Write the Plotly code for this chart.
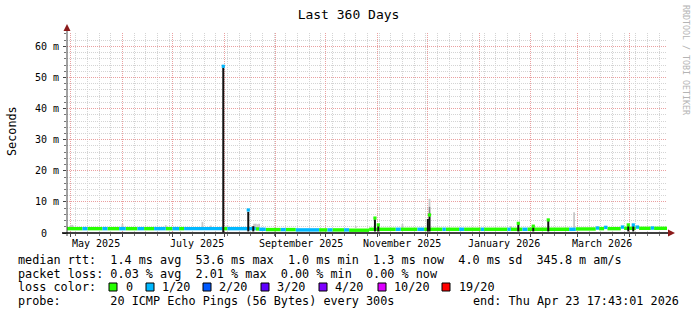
import plotly.graph_objects as go
from datetime import datetime, timedelta

# ---------------- data ----------------
END = datetime(2026, 4, 23, 17, 43, 1)
START = END - timedelta(days=360)

loss_names = ["0", "1/20", "2/20", "3/20", "4/20", "10/20", "19/20"]
loss_colors = ["#26ff00", "#00b8ff", "#0059ff", "#5e00ff", "#7e00ff", "#dd00ff", "#ff0000"]

# median rtt (ms) as steps: edges (N+1), values (N), loss class index (N)
band_edges = ["2025-04-28 17:43", "2025-05-08", "2025-05-11", "2025-05-20", "2025-05-23",
              "2025-05-30", "2025-06-03", "2025-06-10", "2025-06-14", "2025-06-20",
              "2025-06-27", "2025-07-01", "2025-07-05", "2025-07-08", "2025-07-31",
              "2025-08-03", "2025-08-20", "2025-08-22", "2025-08-26", "2025-09-04",
              "2025-09-07", "2025-09-13", "2025-09-27", "2025-10-02", "2025-10-05",
              "2025-10-12", "2025-10-15", "2025-10-27", "2025-11-12", "2025-11-15",
              "2025-11-25", "2025-11-29", "2025-12-10", "2025-12-12", "2025-12-20",
              "2025-12-23", "2026-01-02", "2026-01-04", "2026-01-18", "2026-01-20",
              "2026-01-27", "2026-01-30", "2026-02-24", "2026-02-28", "2026-03-12",
              "2026-03-14", "2026-03-17", "2026-03-19", "2026-03-27", "2026-03-29",
              "2026-04-05", "2026-04-07", "2026-04-14", "2026-04-16", "2026-04-23 17:43"]
band_median = [1.4, 1.4, 1.4, 1.4, 1.4, 1.4, 1.4, 1.4, 1.4, 1.4,
               1.4, 1.4, 1.4, 1.4, 1.4, 1.4, 1.3, 1.2, 1.1, 1.1,
               1.1, 1.0, 1.0, 1.0, 1.0, 1.0, 0.9, 1.2, 1.2, 1.2,
               1.2, 1.2, 1.2, 1.2, 1.2, 1.2, 1.2, 1.2, 1.2, 1.2,
               1.2, 1.2, 1.2, 1.3, 1.6, 1.4, 1.8, 1.4, 1.9, 1.5,
               1.9, 1.5, 1.6, 1.5]
band_loss = [0, 1, 0, 1, 0, 1, 0, 1, 0, 1,
             0, 1, 0, 1, 0, 1, 0, 1, 0, 1,
             0, 1, 0, 1, 0, 1, 0, 0, 1, 0,
             1, 0, 1, 0, 1, 0, 1, 0, 1, 0,
             1, 0, 1, 0, 1, 0, 1, 0, 1, 0,
             1, 0, 1, 0]

# isolated high medians (spikes)
spike_date = ["2025-07-31 12:00", "2025-08-15 12:00", "2025-10-30 12:00", "2025-11-01 12:00",
              "2025-12-02 06:00", "2026-01-24 12:00", "2026-02-02 12:00", "2026-02-11 12:00",
              "2026-03-31 12:00", "2026-04-03 12:00"]
spike_median = [53.6, 7.4, 4.8, 2.6, 5.8, 3.1, 2.2, 4.2, 2.6, 2.6]
spike_loss = [1, 1, 0, 0, 0, 0, 0, 0, 0, 1]

# dense smoke (dark columns)
dark_date = ["2025-07-31 12:00", "2025-08-15 12:00", "2025-08-18 12:00", "2025-10-30 12:00",
             "2025-11-01 12:00", "2025-12-01 06:00", "2025-12-02 06:00", "2026-01-24 12:00",
             "2026-02-02 12:00", "2026-02-11 12:00", "2026-03-31 12:00", "2026-04-03 12:00"]
dark_low = [0.2, 0.5, 0.5, 0.5, 0.5, 0.5, 0.5, 0.5, 0.5, 0.5, 0.5, 0.5]
dark_high = [53.2, 6.8, 2.2, 4.4, 2.3, 4.5, 5.4, 2.8, 1.9, 3.9, 2.3, 2.3]

# light smoke
smoke_date = ["2025-05-01", "2025-05-02", "2025-06-01", "2025-06-27", "2025-07-19",
              "2025-07-24", "2025-08-03", "2025-08-19", "2025-08-20", "2025-08-21",
              "2025-08-22", "2025-10-19", "2025-11-16", "2025-12-02 06:00", "2026-01-20",
              "2026-02-27"]
smoke_low = [1.6, 1.6, 1.6, 1.6, 1.6, 1.6, 1.6, 1.6, 1.6, 1.6, 1.6, 1.6, 1.6, 8.4, 1.6, 1.6]
smoke_high = [2.6, 2.6, 2.9, 2.5, 3.6, 2.4, 2.5, 3.0, 3.0, 2.8, 3.0, 2.2, 2.9, 11.0, 2.2, 6.7]
smoke_mid_date = ["2025-12-02 06:00"]
smoke_mid_low = [5.8]
smoke_mid_high = [8.4]

ytick_vals = [0, 10, 20, 30, 40, 50, 60]
ytick_text = ["0\u00a0\u00a0", "10 m", "20 m", "30 m", "40 m", "50 m", "60 m"]
month_label_dates = ["2025-05-16", "2025-07-16", "2025-09-16", "2025-11-16", "2026-01-16", "2026-03-16"]
month_labels = ["May 2025", "July 2025", "September 2025", "November 2025", "January 2026", "March 2026"]

legend_rows = [
    "median rtt:  1.4 ms avg  53.6 ms max  1.0 ms min  1.3 ms now  4.0 ms sd  345.8 m am/s",
    "packet loss: 0.03 % avg  2.01 % max  0.00 % min  0.00 % now",
    "loss color:",
    "probe:       20 ICMP Echo Pings (56 Bytes) every 300s",
]
end_text = "end: Thu Apr 23 17:43:01 2026"

# ---------------- geometry helpers (pixels) ----------------
W, H = 697, 315
L, R, T, B = 67, 30, 33, 82
PW, PH = W - L - R, H - T - B
YMAX = 64.3
FONT = "DejaVu Sans Mono"


def px(xp):
    return (xp - L) / PW


def py(yp):
    return (T + PH - yp) / PH


def nb(s):
    return s.replace(" ", "\u00a0")


fig = go.Figure()


def vcols(dates, lows, highs, color, width):
    xs, ys = [], []
    for d, lo, hi in zip(dates, lows, highs):
        xs += [d, d, None]
        ys += [lo, hi, None]
    fig.add_trace(go.Scatter(x=xs, y=ys, mode="lines", line=dict(color=color, width=width),
                             hoverinfo="skip", showlegend=False))


# light smoke
vcols(smoke_date, smoke_low, smoke_high, "#c8c8c8", 1.8)
vcols(smoke_mid_date, smoke_mid_low, smoke_mid_high, "#808080", 1.8)

# median band, coloured by loss
for li, col in enumerate(loss_colors):
    xs, ys = [], []
    for i in range(len(band_median)):
        if band_loss[i] == li:
            xs += [band_edges[i], band_edges[i + 1], None]
            ys += [band_median[i], band_median[i], None]
    if xs:
        fig.add_trace(go.Scatter(x=xs, y=ys, mode="lines", line=dict(color=col, width=3.4),
                                 hoverinfo="skip", showlegend=False))

# dark smoke columns
vcols(dark_date, dark_low, dark_high, "#111111", 2.0)

# spike medians
fig.add_trace(go.Scatter(x=spike_date, y=spike_median, mode="markers",
                         marker=dict(symbol="square", size=3.2,
                                     color=[loss_colors[k] for k in spike_loss], line=dict(width=0)),
                         hoverinfo="skip", showlegend=False))

grid_minor = "#d4d4d4"
grid_major = "#eaa0a0"

fig.update_xaxes(
    type="date", range=[START, END], showgrid=True, gridcolor=grid_major, griddash="1px,1px",
    gridwidth=1, dtick="M1", tick0="2025-05-01", ticks="outside", ticklen=3, tickcolor="#444",
    showticklabels=False, zeroline=False, showline=False,
    minor=dict(dtick=7 * 86400000, tick0="2025-05-04", showgrid=True, gridcolor=grid_minor,
               griddash="1px,1px", ticks="outside", ticklen=2, tickcolor="#777"),
)
fig.update_yaxes(
    range=[0, YMAX], tickvals=ytick_vals, ticktext=ytick_text, showgrid=True, gridcolor=grid_major,
    griddash="1px,1px", ticks="outside", ticklen=3, tickcolor="#444", zeroline=False, showline=False,
    tickfont=dict(family=FONT, size=10, color="#000"), ticklabelstandoff=2,
    minor=dict(dtick=2, showgrid=True, gridcolor=grid_minor, griddash="1px,1px", ticks="outside",
               ticklen=2, tickcolor="#777"),
)

ann = []
for d, t in zip(month_label_dates, month_labels):
    ann.append(dict(x=d, y=py(243), xref="x", yref="paper", text=nb(t), showarrow=False,
                    xanchor="center", yanchor="middle", font=dict(family=FONT, size=10, color="#000")))

ann.append(dict(x=px(12), y=py(131), xref="paper", yref="paper", text="Seconds", textangle=-90,
                showarrow=False, xanchor="center", yanchor="middle",
                font=dict(family=FONT, size=11.8, color="#000")))
ann.append(dict(x=px(686), y=py(60), xref="paper", yref="paper", text=nb("RRDTOOL / TOBI OETIKER"),
                textangle=90, showarrow=False, xanchor="center", yanchor="middle",
                font=dict(family=FONT, size=8.3, color="#b4b4b4")))

row_y = [260, 273.5, 287, 300.7]
for r, yv in zip(legend_rows, row_y):
    ann.append(dict(x=px(16), y=py(yv), xref="paper", yref="paper", text=nb(r), showarrow=False,
                    xanchor="left", yanchor="middle", font=dict(family=FONT, size=11.8, color="#000")))
ann.append(dict(x=px(681), y=py(300.7), xref="paper", yref="paper", text=nb(end_text), showarrow=False,
                xanchor="right", yanchor="middle", font=dict(family=FONT, size=11.8, color="#000")))

# loss colour legend boxes + labels
box_x = [109, 146, 203, 261, 319, 378, 442]
lab_x = [124, 160, 217, 275, 333, 392, 457]
shapes = []
for bx, lx, name, col in zip(box_x, lab_x, loss_names, loss_colors):
    shapes.append(dict(type="rect", xref="paper", yref="paper", x0=px(bx), x1=px(bx + 8),
                       y0=py(291), y1=py(283), fillcolor=col, line=dict(color="#000", width=1)))
    ann.append(dict(x=px(lx), y=py(287), xref="paper", yref="paper", text=name, showarrow=False,
                    xanchor="left", yanchor="middle", font=dict(family=FONT, size=11.8, color="#000")))

# axes lines + arrows
shapes.append(dict(type="line", xref="paper", yref="paper", x0=0, x1=0, y0=py(236), y1=py(29),
                   line=dict(color="#444", width=1)))
shapes.append(dict(type="line", xref="paper", yref="paper", x0=px(62), x1=px(669), y0=0, y1=0,
                   line=dict(color="#000", width=1.5)))
shapes.append(dict(type="path", xref="paper", yref="paper",
                   path=f"M {px(63.5)} {py(31)} L {px(70.5)} {py(31)} L {px(67)} {py(24)} Z",
                   fillcolor="#8b1a1a", line=dict(width=0)))
shapes.append(dict(type="path", xref="paper", yref="paper",
                   path=f"M {px(668)} {py(229.5)} L {px(668)} {py(236.5)} L {px(675)} {py(233)} Z",
                   fillcolor="#8b1a1a", line=dict(width=0)))

fig.update_layout(
    width=W, height=H, margin=dict(l=L, r=R, t=T, b=B),
    paper_bgcolor="#ffffff", plot_bgcolor="#ffffff",
    title=dict(text=nb("Last 360 Days"), x=0.5, xref="container", xanchor="center",
               y=1 - 14 / H, yref="container", yanchor="middle",
               font=dict(family=FONT, size=13, color="#000")),
    annotations=ann, shapes=shapes, showlegend=False,
)

fig.write_html("out.html")
